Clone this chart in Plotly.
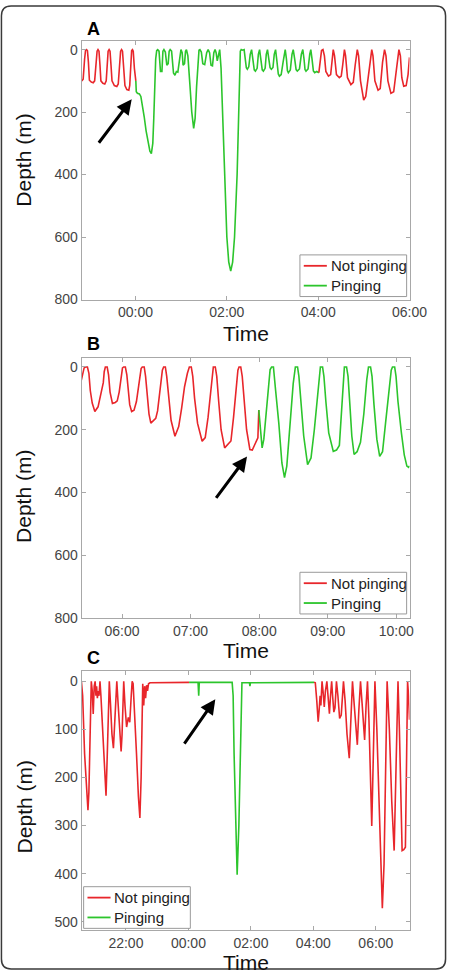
import pandas as pd
import plotly.graph_objects as go

# ---------------- data: (minutes relative to panel base time, depth in m) ----------------
A_BASE = "2011-01-02 00:00"
A_red1 = [(-70.7,100),(-68.8,95),(-66.9,30),(-65.7,3),(-64.4,0),(-63.2,3),(-61.9,40),(-60.6,98),(-58.1,104),(-55.6,106),(-53.7,100),(-51.8,40),(-50.5,5),(-49.3,0),(-48.0,5),(-46.7,50),(-45.5,100),(-42.9,108),(-40.4,110),(-38.5,100),(-37.3,40),(-36.0,5),(-34.7,0),(-33.5,5),(-32.2,50),(-30.9,100),(-27.8,115),(-24.6,118),(-22.7,110),(-20.8,40),(-19.6,5),(-18.3,0),(-17.1,5),(-15.8,50),(-13.9,115),(-11.4,128),(-8.8,130),(-7.6,115),(-6.3,40),(-5.1,3),(-4.0,0),(-3.0,5),(-1.5,60),(0.4,100)]
A_green = [(0.4,100),(1.0,135),(2.5,140),(5.1,142),(7.0,150),(8.8,175),(11.4,215),(13.9,260),(16.4,300),(18.9,325),(20.8,333),(22.7,300),(24.0,220),(25.3,120),(26.5,30),(27.8,3),(29.1,0),(30.9,5),(32.8,70),(34.7,70),(36.0,5),(37.3,0),(39.2,8),(41.1,50),(42.9,45),(44.2,5),(45.5,0),(47.4,5),(49.9,75),(51.8,82),(53.7,70),(55.6,72),(57.5,30),(58.7,3),(59.7,0),(61.3,10),(62.5,50),(64.4,45),(65.7,5),(66.9,0),(68.8,20),(71.4,110),(73.9,200),(76.4,252),(78.3,220),(80.2,120),(82.1,20),(83.4,2),(84.6,0),(86.5,8),(88.4,45),(90.9,48),(93.5,10),(95.4,0),(97.3,10),(99.2,50),(101.1,52),(102.9,10),(104.5,0),(105.9,10),(107.4,36),(109.0,10),(110.6,0),(112.4,60),(114.3,200),(116.2,370),(120.0,600),(122.5,680),(125.1,709),(127.6,680),(130.1,600),(133.5,400),(135.2,200),(136.4,60),(137.7,5),(138.9,0),(140.8,2),(142.7,0),(144.2,30),(145.6,58),(146.9,63),(148.8,55),(150.7,15),(152.5,0),(154.1,30),(156.0,65),(157.5,69),(159.8,60),(161.4,15),(163.0,0),(164.6,30),(166.5,65),(168.0,69),(170.3,60),(171.8,15),(173.4,0),(175.1,30),(176.8,58),(178.5,63),(180.6,57),(182.3,15),(184.0,0),(185.7,35),(187.6,78),(189.1,85),(191.4,80),(193.9,40),(195.5,5),(196.7,0),(198.3,30),(199.6,68),(200.8,74),(203.4,65),(205.6,15),(207.2,0),(209.1,30),(211.0,64),(212.6,69),(215.4,62),(217.9,15),(219.8,0),(221.4,30),(222.7,64),(224.0,69),(226.7,62),(228.9,15),(230.3,0),(231.9,30),(233.7,68),(235.4,74),(238.1,70),(240.9,74)]
A_red2 = [(240.9,74),(242.5,30),(244.4,3),(246.3,0),(248.2,20),(250.1,70),(253.5,85),(256.4,80),(258.3,20),(259.8,0),(261.5,20),(264.0,80),(267.8,90),(270.3,85),(272.2,50),(273.5,15),(274.5,0),(276.0,20),(278.5,90),(283.0,112),(286.1,105),(288.6,50),(290.3,10),(291.4,0),(293.1,20),(295.6,100),(299.8,162),(302.5,150),(305.7,90),(308.8,15),(310.4,0),(312.0,20),(314.5,100),(318.7,130),(321.5,125),(324.6,40),(326.3,5),(327.2,0),(329.1,20),(331.6,100),(335.6,140),(339.2,135),(343.0,60),(344.9,10),(346.1,0),(348.0,20),(349.9,90),(352.4,117),(355.6,115),(358.1,80),(360.0,25)]

B_BASE = "2011-01-01 06:00"
B_red = [(-35.6,42),(-34.5,20),(-33.2,3),(-32.0,0),(-30.3,0),(-29.0,20),(-27.8,75),(-26.1,115),(-23.8,142),(-21.0,127),(-18.5,80),(-17.3,55),(-16.4,50),(-15.6,15),(-14.6,0),(-13.0,0),(-11.8,25),(-10.5,80),(-8.4,116),(-5.9,113),(-4.2,108),(-2.5,80),(-0.8,30),(0.4,3),(1.4,0),(2.9,0),(4.2,25),(5.5,80),(6.7,120),(8.4,142),(10.5,138),(12.6,110),(15.1,40),(16.7,5),(17.7,0),(19.4,0),(20.6,30),(21.9,90),(23.6,150),(25.2,179),(27.3,172),(29.5,164),(31.1,140),(33.7,60),(35.3,10),(36.4,0),(37.9,0),(39.1,30),(40.8,100),(42.9,170),(46.3,221),(49.6,190),(52.2,130),(54.7,63),(57.2,20),(58.9,0),(60.6,0),(61.9,30),(63.5,100),(66.1,180),(70.1,237),(72.8,225),(75.3,160),(77.8,60),(79.1,10),(79.9,0),(81.6,0),(82.9,30),(84.6,110),(86.7,200),(89.8,258),(92.1,250),(95.3,236),(97.6,160),(100.1,60),(101.4,10),(102.4,0),(103.9,0),(105.2,30),(106.9,110),(109.0,200),(111.9,263),(114.0,265),(116.1,248),(118.9,226),(119.7,137)]
B_green = [(119.7,137),(120.8,180),(122.6,258),(124.1,230),(126.2,140),(128.3,50),(129.6,8),(130.9,0),(132.5,0),(134.4,74),(137.2,179),(139.9,306),(142.2,353),(144.2,316),(147.0,179),(149.8,53),(151.7,0),(153.6,0),(154.8,30),(156.5,110),(159.0,220),(162.4,311),(165.4,290),(168.3,200),(171.2,90),(172.9,15),(173.6,0),(175.5,0),(176.7,30),(178.4,110),(180.9,210),(184.9,269),(187.7,265),(190.2,250),(192.3,140),(194.0,30),(194.6,0),(196.5,0),(197.8,30),(199.4,120),(201.1,220),(203.1,279),(205.7,270),(208.7,240),(211.6,150),(214.2,40),(215.7,0),(217.5,0),(218.8,30),(220.5,120),(223.0,230),(225.5,285),(228.0,270),(230.6,180),(233.5,80),(235.6,10),(236.7,0),(238.6,0),(239.8,30),(241.5,110),(244.5,210),(247.0,280),(249.3,316),(250.8,320),(251.6,315)]

C_BASE = "2011-01-01 22:00"
C_red1 = [(-85.5,0),(-83.1,30),(-79.4,150),(-74.8,250),(-72.9,268),(-71.1,230),(-69.2,100),(-67.9,10),(-66.5,0),(-64.6,20),(-62.8,68),(-60.9,10),(-59.1,0),(-57.6,30),(-56.3,10),(-54.8,35),(-53.5,20),(-51.7,30),(-50.8,5),(-49.8,0),(-48.0,30),(-44.3,120),(-40.6,200),(-38.2,238),(-36.0,160),(-33.2,30),(-31.9,0),(-29.5,50),(-26.8,110),(-24.0,139),(-21.2,80),(-18.5,5),(-17.5,0),(-14.8,50),(-12.0,110),(-9.2,146),(-7.4,110),(-5.0,10),(-4.2,0),(-1.8,50),(1.3,95),(4.6,75),(7.4,85),(10.2,30),(12.0,0),(13.8,5),(16.6,60),(20.3,150),(24.0,240),(26.8,284),(29.2,200),(31.0,60),(32.3,5),(34.2,50),(36.0,10),(37.8,35),(39.7,8),(41.5,20),(43.4,5),(46.2,3),(62.8,3),(90.5,2),(121.3,2)]
C_green = [(121.3,2),(138.5,2),(139.8,30),(140.9,2),(204.0,2),(205.9,30),(207.7,150),(210.5,300),(213.6,402),(216.9,300),(219.7,150),(221.5,30),(222.8,3),(237.2,3),(238.2,10),(239.1,3),(293.5,2),(361.3,2)]
C_red2 = [(361.3,2),(363.7,3),(366.5,40),(369.2,84),(371.1,60),(372.9,30),(374.4,50),(376.6,0),(378.5,20),(380.9,53),(383.1,20),(385.9,0),(388.1,30),(390.8,67),(392.9,30),(395.1,0),(396.9,30),(399.3,64),(401.5,55),(404.3,0),(407.1,30),(410.4,77),(413.5,70),(417.8,0),(420.9,40),(424.6,110),(428.9,160),(432.0,80),(435.1,0),(438.5,50),(441.8,100),(444.4,132),(447.3,60),(450.5,0),(453.8,50),(456.4,100),(458.4,122),(461.2,50),(463.9,0),(466.7,80),(469.9,220),(472.1,301),(475.0,160),(478.2,0),(481.9,100),(486.5,280),(490.2,420),(492.4,472),(495.7,380),(499.0,150),(501.6,0),(505.9,100),(510.5,250),(515.1,352),(518.4,220),(520.6,80),(522.5,0),(525.2,100),(528.0,280),(530.4,352),(533.6,350),(536.7,345),(539.1,150),(540.9,0),(542.8,30),(544.6,80)]

A_XRANGE = (-70.7, 360.0)
B_XRANGE = (-35.3, 251.6)
C_XRANGE = (-84.9, 544.6)
A_YRANGE = (800, -28.6)
B_YRANGE = (800, -28.5)
C_YRANGE = (517.9, -20.6)
A_YTICKS = [0, 200, 400, 600, 800]
B_YTICKS = [0, 200, 400, 600, 800]
C_YTICKS = [0, 100, 200, 300, 400, 500]
A_XDTICK_H, B_XDTICK_H, C_XDTICK_H = 2, 1, 2
# arrow heads: (minutes from base, depth)
A_ARROW = (-5.0, 159)
B_ARROW = (109.4, 285)
C_ARROW = (171.7, 37)
SERIES_NAMES = ["Not pinging", "Pinging"]
PANEL_LABELS = ["A", "B", "C"]
X_TITLE = "Time"
Y_TITLE = "Depth (m)"

# ---------------- styling ----------------
W, H = 465, 980
RED = "#E8262B"
GREEN = "#2CC52C"
FONT = "Liberation Sans, Arial, Helvetica, sans-serif"
FRAME = "#A8A8A8"

def tt(base, m):
    return pd.Timestamp(base) + pd.Timedelta(minutes=m)

def unzip(base, pts):
    return [tt(base, m) for m, _ in pts], [d for _, d in pts]

def px(x):
    return x / W

def py(y):
    return 1 - y / H

panels = [
    dict(base=A_BASE, segs=[(A_red1, 0), (A_green, 1), (A_red2, 0)], xr=A_XRANGE, yr=A_YRANGE,
         yt=A_YTICKS, dt=A_XDTICK_H, top=41, bot=302, arrow=A_ARROW, adx=-34, ady=45,
         leg=(312, 257), ttl_y=336, ylab_y=162, lab_y=29),
    dict(base=B_BASE, segs=[(B_red, 0), (B_green, 1)], xr=B_XRANGE, yr=B_YRANGE,
         yt=B_YTICKS, dt=B_XDTICK_H, top=361, bot=623, arrow=B_ARROW, adx=-32, ady=43,
         leg=(312, 577), ttl_y=656, ylab_y=501, lab_y=347),
    dict(base=C_BASE, segs=[(C_red1, 0), (C_green, 1), (C_red2, 0)], xr=C_XRANGE, yr=C_YRANGE,
         yt=C_YTICKS, dt=C_XDTICK_H, top=677, bot=938, arrow=C_ARROW, adx=-32, ady=46,
         leg=(87, 894), ttl_y=970, ylab_y=814, lab_y=663),
]

fig = go.Figure()
layout = dict(width=W, height=H, autosize=False, margin=dict(l=0, r=0, t=0, b=0, pad=0),
              paper_bgcolor="white", plot_bgcolor="white", font=dict(family=FONT),
              showlegend=False)
annotations = []
shapes = []
X0, X1 = 85, 426

for i, p in enumerate(panels):
    k = "" if i == 0 else str(i + 1)
    xa, ya = "x" + k, "y" + k
    for pts, s in p["segs"]:
        t, d = unzip(p["base"], pts)
        fig.add_trace(go.Scatter(
            x=t, y=d, mode="lines", xaxis=xa, yaxis=ya,
            line=dict(color=RED if s == 0 else GREEN, width=1.6),
            name=SERIES_NAMES[s], hoverinfo="skip"))
    axcommon = dict(showline=True, mirror="ticks", linecolor=FRAME, linewidth=1,
                    ticks="inside", ticklen=4, tickcolor=FRAME, tickwidth=1,
                    showgrid=False, zeroline=False,
                    tickfont=dict(family=FONT, size=14, color="#444"))
    layout["xaxis" + k] = dict(axcommon, type="date", domain=[px(X0), px(X1)], anchor=ya,
                               range=[tt(p["base"], p["xr"][0]), tt(p["base"], p["xr"][1])],
                               tick0="2011-01-01 00:00", dtick=p["dt"] * 3600 * 1000,
                               tickformat="%H:%M")
    layout["yaxis" + k] = dict(axcommon, domain=[py(p["bot"]), py(p["top"])], anchor=xa,
                               range=list(p["yr"]), tickvals=p["yt"])
    # legend box (drawn manually to match the compact MATLAB legend)
    lx, ly = p["leg"]
    shapes.append(dict(type="rect", xref="paper", yref="paper", x0=px(lx), x1=px(lx + 111),
                       y0=py(ly), y1=py(ly + 42), line=dict(color="#9a9a9a", width=1),
                       fillcolor="white", layer="above"))
    for j, name in enumerate(SERIES_NAMES):
        ry = ly + 11 + 20 * j
        shapes.append(dict(type="line", xref="paper", yref="paper", x0=px(lx + 4), x1=px(lx + 28),
                           y0=py(ry), y1=py(ry), line=dict(color=RED if j == 0 else GREEN, width=1.8),
                           layer="above"))
        annotations.append(dict(text=name, x=px(lx + 30), y=py(ry), xref="paper", yref="paper",
                                showarrow=False, xanchor="left", yanchor="middle",
                                font=dict(family=FONT, size=15, color="#222")))
    annotations.append(dict(text=X_TITLE, x=px((X0 + X1) / 2), y=py(p["ttl_y"]), xref="paper",
                            yref="paper", showarrow=False, xanchor="center", yanchor="middle",
                            font=dict(family=FONT, size=21, color="#111")))
    annotations.append(dict(text=Y_TITLE, x=px(25), y=py(p["ylab_y"]), xref="paper",
                            yref="paper", showarrow=False, textangle=-90, xanchor="center",
                            yanchor="middle", font=dict(family=FONT, size=21, color="#111")))
    annotations.append(dict(text="<b>%s</b>" % PANEL_LABELS[i], x=px(97), y=py(p["lab_y"]),
                            xref="paper", yref="paper", showarrow=False, xanchor="center",
                            yanchor="middle", font=dict(family=FONT, size=18, color="#000")))
    am, ad = p["arrow"]
    annotations.append(dict(text="", x=str(tt(p["base"], am)), y=ad, xref=xa, yref=ya,
                            ax=p["adx"], ay=p["ady"], showarrow=True, arrowhead=2,
                            arrowsize=1.0, arrowwidth=3, arrowcolor="black", standoff=0))

# outer rounded frame
x0, y0, x1, y1, r = 1.5, 6, 463.5, 977, 10
path = (f"M {px(x0+r)},{py(y0)} L {px(x1-r)},{py(y0)} Q {px(x1)},{py(y0)} {px(x1)},{py(y0+r)} "
        f"L {px(x1)},{py(y1-r)} Q {px(x1)},{py(y1)} {px(x1-r)},{py(y1)} "
        f"L {px(x0+r)},{py(y1)} Q {px(x0)},{py(y1)} {px(x0)},{py(y1-r)} "
        f"L {px(x0)},{py(y0+r)} Q {px(x0)},{py(y0)} {px(x0+r)},{py(y0)} Z")
shapes.append(dict(type="path", xref="paper", yref="paper", path=path,
                   line=dict(color="#3a3a3a", width=1.5), layer="above"))
layout["shapes"] = shapes
layout["annotations"] = annotations
fig.update_layout(**layout)
fig.write_html("out.html", config={"responsive": False, "displayModeBar": False},
               post_script="document.body.style.margin='0';"
                           "document.documentElement.style.overflow='hidden';"
                           "document.body.style.overflow='hidden';")
